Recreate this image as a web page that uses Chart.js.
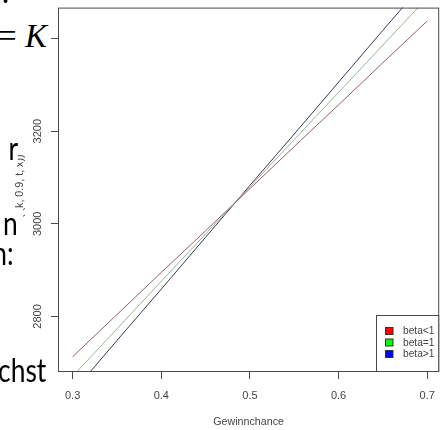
<!DOCTYPE html>
<html>
<head>
<meta charset="utf-8">
<script src="https://cdn.jsdelivr.net/npm/chart.js@4.4.1/dist/chart.umd.min.js"></script>
<style>
  html, body { margin: 0; padding: 0; background: #fff; }
  #wrap { position: relative; width: 445px; height: 430px; overflow: hidden; background: #fff; }
  #c { position: absolute; left: 0; top: 0; }
  .ov { position: absolute; white-space: nowrap; line-height: 1; background: #fff; color: #000;
        font-family: Lato, "Open Sans", sans-serif; }
  .nar { font-size: 33px; transform: scaleX(0.8); transform-origin: right center; }
</style>
</head>
<body>
<div id="wrap">
  <canvas id="c" width="445" height="430"></canvas>
  <div class="ov" id="t0" style="left:2px; top:-24px; font-size:30px; background:transparent;">.</div>
  <div class="ov" id="t1" style="left:-2px; top:6px; width:51px; height:60px; font-family:'Liberation Serif','DejaVu Serif',serif; font-size:33px; line-height:60px;">= <i>K</i></div>
  <div class="ov nar" id="t2" style="right:427px; top:131px;">r</div>
  <div class="ov nar" id="t3" style="right:422px; top:208px; padding-right:7px; line-height:0.85;">n</div>
  <div class="ov nar" id="t4" style="right:431px; top:236px;">n:</div>
  <div class="ov nar" id="t5" style="right:399px; top:353px;">chst</div>
</div>
<script>
// ---- data ----
const xValues   = [0.30, 0.35, 0.40, 0.45, 0.50, 0.55, 0.60, 0.65, 0.70];
const betaLess  = [2713, 2804, 2895, 2985, 3076, 3167, 3257, 3348, 3438];
const betaEqual = [2671, 2773, 2876, 2978, 3080, 3182, 3284, 3386, 3488];
const betaMore  = [2636, 2748, 2859, 2971, 3083, 3194, 3306, 3418, 3529];
const seriesLabels = ['beta<1', 'beta=1', 'beta>1'];
const xTicks = [0.3, 0.4, 0.5, 0.6, 0.7];
const yTicks = [2800, 3000, 3200, 3400];
const xTitle = 'Gewinnchance';
const yTitle = 'E(f(k, 0.9, t, x))';

const lineColors   = ['#9a5a66', '#94b894', '#3a3a5a'];
const legendColors = ['#ff0000', '#00ff00', '#0000ff'];
const axisColor = '#4a4a4a';
const textColor = '#444444';
const fontFam = '"Liberation Sans", Arial, sans-serif';

const toPts = arr => xValues.map((x, i) => ({x: x, y: arr[i]}));
const seriesData = [betaLess, betaEqual, betaMore];

const boxLegend = {
  id: 'boxLegend',
  afterDatasetsDraw(chart) {
    const {ctx, chartArea: a} = chart;
    ctx.save();
    ctx.strokeStyle = axisColor;
    ctx.lineWidth = 1;
    ctx.strokeRect(a.left + 0.5, a.top + 0.5, a.right - a.left - 1, a.bottom - a.top - 1);
    const bx = 376.5, by = 315.5, bw = a.right - 0.5 - bx, bh = a.bottom - 0.5 - by;
    ctx.fillStyle = '#fff';
    ctx.fillRect(bx, by, bw, bh);
    ctx.strokeRect(bx, by, bw, bh);
    ctx.font = '10.2px ' + fontFam;
    ctx.textBaseline = 'middle';
    ctx.textAlign = 'left';
    chart.data.datasets.forEach((ds, i) => {
      const cy = 331 + i * 11.5;
      ctx.fillStyle = legendColors[i];
      ctx.fillRect(385, cy - 3.5, 8, 7);
      ctx.strokeStyle = '#333';
      ctx.strokeRect(385.5, cy - 3.5, 7.5, 7);
      ctx.fillStyle = textColor;
      ctx.fillText(ds.label, 403, cy + 0.5);
    });
    ctx.restore();
  }
};

new Chart(document.getElementById('c'), {
  type: 'line',
  data: {
    datasets: seriesData.map((arr, i) => ({
      label: seriesLabels[i],
      data: toPts(arr),
      borderColor: lineColors[i],
      borderWidth: 1,
      pointRadius: 0,
      tension: 0,
      fill: false
    }))
  },
  options: {
    responsive: false,
    animation: false,
    devicePixelRatio: 1,
    layout: { padding: { top: 6, right: 4, left: 0, bottom: 0 } },
    plugins: { legend: { display: false }, tooltip: { enabled: false } },
    scales: {
      x: {
        type: 'linear',
        min: 0.2835, max: 0.7135,
        afterBuildTicks: s => { s.ticks = xTicks.map(v => ({value: v})); },
        afterFit: s => { s.height = 58; },
        border: { display: false },
        grid: { drawOnChartArea: false, drawTicks: true, tickLength: 7, color: axisColor },
        ticks: { color: textColor, font: { size: 11, family: fontFam }, padding: 10,
                 maxRotation: 0, autoSkip: false, callback: v => v.toFixed(1) },
        title: { display: true, text: xTitle, color: textColor,
                 font: { size: 10.7, family: fontFam }, padding: { top: 0, bottom: 2 } }
      },
      y: {
        type: 'linear',
        min: 2680, max: 3467,
        afterBuildTicks: s => { s.ticks = yTicks.map(v => ({value: v})); },
        afterFit: s => { s.width = 58; },
        border: { display: false },
        grid: { drawOnChartArea: false, drawTicks: true, tickLength: 7, color: axisColor },
        ticks: { color: textColor, font: { size: 11, family: fontFam }, padding: 1,
                 minRotation: 90, maxRotation: 90, crossAlign: 'center', autoSkip: false,
                 callback: v => String(v) },
        title: { display: true, text: yTitle, color: textColor,
                 font: { size: 10.7, family: fontFam }, padding: { top: 14, bottom: 0 } }
      }
    }
  },
  plugins: [boxLegend]
});
</script>
</body>
</html>
